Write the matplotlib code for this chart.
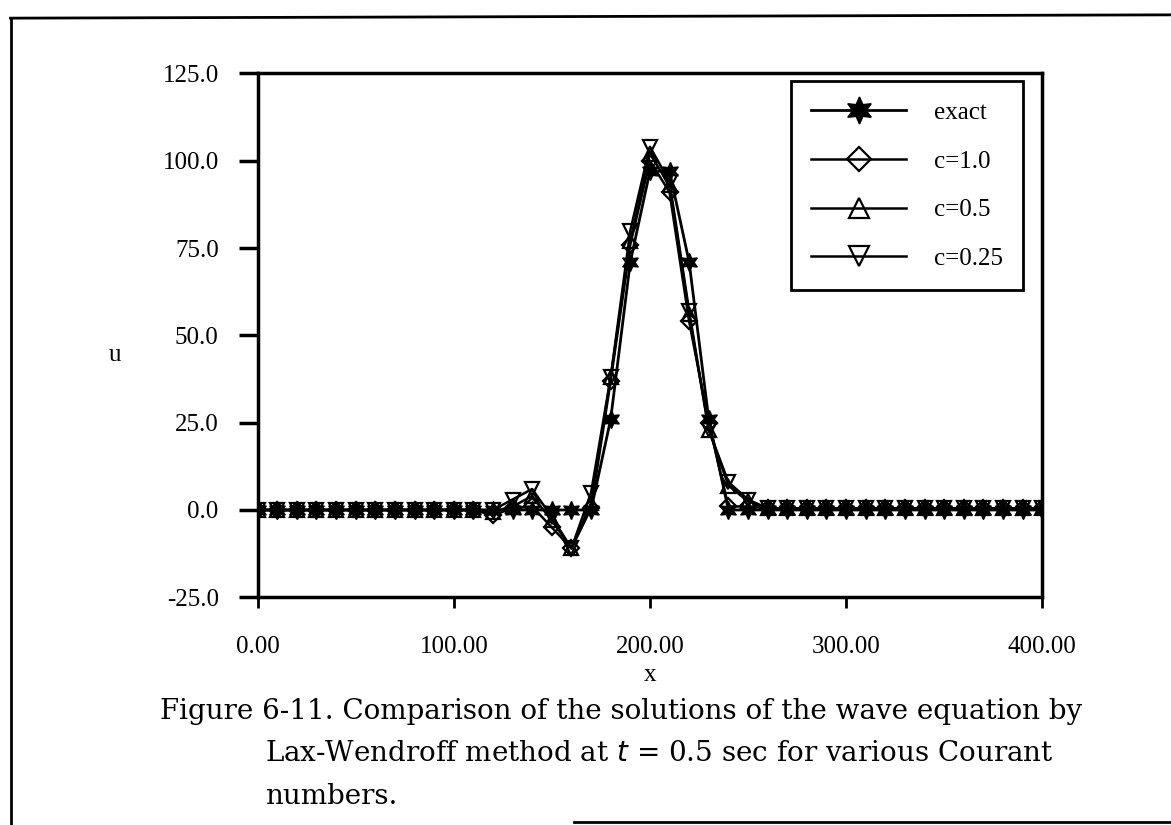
import numpy as np
import matplotlib.pyplot as plt
from matplotlib.lines import Line2D

# ----------------------------
# Data
# ----------------------------
x = list(range(0, 410, 10))

exact = [0] * 18 + [26, 71, 97, 97, 71, 26] + [0] * 17

c10 = ([0] * 12 + [-1.5, 0.5, 1, -5, -11, 0.5, 37, 76, 100, 91, 54, 25, 1, 1]
       + [0.5] * 15)
c05 = ([0] * 12 + [-0.5, 1, 4, -3, -11, 2, 38, 77, 102, 93, 56, 23, 7, 2.5]
       + [0.5] * 15)
c025 = ([0] * 12 + [0, 3, 6, -2, -11, 5, 38, 80, 104, 94, 57, 23, 8, 3]
        + [0.5] * 15)

labels = ["exact", "c=1.0", "c=0.5", "c=0.25"]
yticks = [-25, 0, 25, 50, 75, 100, 125]
xticks = [0, 100, 200, 300, 400]

# ----------------------------
plt.rcParams['font.family'] = ['Liberation Serif', 'DejaVu Serif']

fig = plt.figure(figsize=(11.71, 8.25), dpi=100)
ax = fig.add_axes([0.220, 0.276, 0.670, 0.635])

ms = 10
ax.plot(x, c10, color='black', lw=1.8, marker='D', ms=ms * 0.8,
        mfc='none', mec='black', mew=1.6, label=labels[1])
ax.plot(x, c05, color='black', lw=1.8, marker='^', ms=ms,
        mfc='none', mec='black', mew=1.6, label=labels[2])
ax.plot(x, c025, color='black', lw=1.8, marker='v', ms=ms,
        mfc='none', mec='black', mew=1.6, label=labels[3])
ax.plot(x, exact, color='black', lw=2, marker=(6, 1, 0), ms=ms * 1.3,
        mfc='black', mec='black', label=labels[0])

ax.set_xlim(0, 400)
ax.set_ylim(-25, 125)
ax.set_xticks(xticks)
ax.set_xticklabels([f"{v:.2f}" for v in xticks])
ax.set_yticks(yticks)
ax.set_yticklabels([f"{v:.1f}" for v in yticks])
ax.tick_params(axis='y', direction='out', length=14, width=2.5, pad=14,
               labelsize=18)
ax.tick_params(axis='x', direction='out', length=8, width=2, pad=20,
               labelsize=18)
for s in ax.spines.values():
    s.set_linewidth(2.5)

ax.set_xlabel('x', fontsize=18, labelpad=4)
fig.text(0.098, 0.57, 'u', fontsize=18, ha='center', va='center')

handles, labs = ax.get_legend_handles_labels()
order = [3, 0, 1, 2]
leg = ax.legend([handles[i] for i in order], [labs[i] for i in order],
                loc='upper right', bbox_to_anchor=(0.9755, 0.985),
                borderaxespad=0, fontsize=18, handlelength=3.8,
                handletextpad=1.1, borderpad=0.8, labelspacing=1.05,
                markerscale=1.5, fancybox=False, framealpha=1,
                edgecolor='black')
leg.get_frame().set_linewidth(2)

# caption
cap = dict(fontsize=20, family=['DejaVu Serif'], ha='left', va='baseline')
fig.text(0.137, 0.128,
         'Figure 6-11. Comparison of the solutions of the wave equation by',
         **cap)
fig.text(0.226, 0.077, 'Lax-Wendroff method at $t$ = 0.5 sec for various Courant',
         **cap)
fig.text(0.226, 0.026, 'numbers.', **cap)

# page frame
fig.add_artist(Line2D([0.009, 1.0], [0.978, 0.982], color='black', lw=2,
                      transform=fig.transFigure))
fig.add_artist(Line2D([0.009, 0.009], [0.978, 0.0], color='black', lw=2,
                      transform=fig.transFigure))
fig.add_artist(Line2D([0.49, 1.0], [0.004, 0.004], color='black', lw=2,
                      transform=fig.transFigure))

fig.savefig('out.png', dpi=100)
